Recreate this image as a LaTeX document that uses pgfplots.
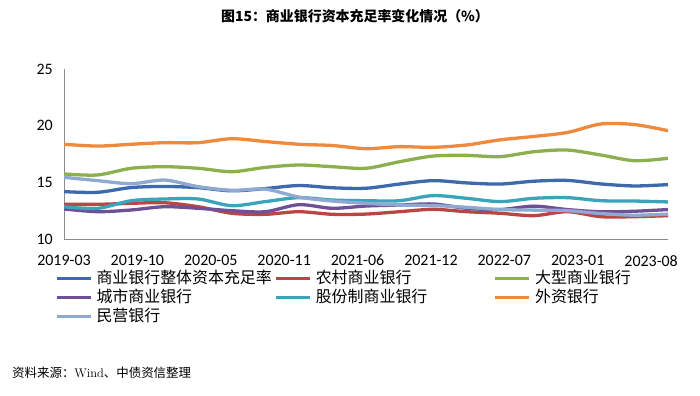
\documentclass[border=0pt]{standalone}
\usepackage{pgfplots}
\pgfplotsset{compat=1.18}
\usepackage{fontspec}
\newfontfamily\cjk{Noto Sans CJK SC}
\newfontfamily\calibri{Carlito}
\definecolor{cBlue}{HTML}{3D6AAD}
\definecolor{cRed}{HTML}{B84743}
\definecolor{cGreen}{HTML}{8DB04E}
\definecolor{cPurple}{HTML}{6F5096}
\definecolor{cTeal}{HTML}{3BA3BA}
\definecolor{cOrange}{HTML}{EE8A3E}
\definecolor{cLight}{HTML}{8FAAD2}
\begin{document}
\begin{tikzpicture}[x=1bp,y=1bp]
\path[use as bounding box] (0,0) rectangle (700,-395);
\node[anchor=center] at (355,-16) {\fontsize{14}{16}\selectfont\cjk\bfseries 图15：商业银行资本充足率变化情况（\%）};
\node[anchor=west,inner sep=0pt] at (12,-373) {\fontsize{12.5}{14}\selectfont{\cjk 资料来源：}Wind{\cjk 、中债资信整理}};
\begin{axis}[
  at={(64bp,-239bp)}, anchor=south west,
  scale only axis, width=604bp, height=170bp,
  xmin=0, xmax=18, ymin=10, ymax=25,
  axis x line*=bottom, axis y line*=left,
  axis line style={draw=black!45, line width=0.9bp, -},
  major tick length=0pt,
  ytick={10,15,20,25},
  xtick={0,2.187,4.374,6.561,8.748,10.935,13.122,15.309,17.496},
  xticklabels={2019-03,2019-10,2020-05,2020-11,2021-06,2021-12,2022-07,2023-01,2023-08},
  /pgf/number format/assume math mode=true,
  tick label style={font=\calibri\fontsize{16}{18}\selectfont, inner sep=0pt},
  x tick label style={anchor=north, yshift=-16bp},
  y tick label style={anchor=east, xshift=-11bp},
  legend columns=3,
  legend style={at={(axis description cs:-0.0149,-0.181)}, anchor=north west,
    draw=none, fill=none, inner sep=0pt, column sep=0pt, row sep=2bp,
    nodes={inner sep=0pt, text height=14bp, text depth=3bp, font=\fontsize{16}{18}\selectfont}},
  legend image code/.code={\draw[#1] (0bp,0bp) -- (34bp,0bp);},
  every axis plot/.append style={line width=3.3bp, smooth, tension=0.5, no markers},
]
\addplot[cBlue] coordinates {(0,14.18)(1,14.12)(2,14.54)(3,14.64)(4,14.53)(5,14.25)(6,14.45)(7,14.72)(8,14.52)(9,14.48)(10,14.85)(11,15.15)(12,14.95)(13,14.85)(14,15.1)(15,15.17)(16,14.86)(17,14.68)(18,14.8)};
\addlegendentry{\makebox[182bp][l]{\hspace*{4bp}\cjk 商业银行整体资本充足率}}
\addplot[cRed] coordinates {(0,13.06)(1,13.06)(2,13.15)(3,13.2)(4,12.85)(5,12.27)(6,12.18)(7,12.41)(8,12.18)(9,12.2)(10,12.41)(11,12.62)(12,12.41)(13,12.27)(14,12.06)(15,12.41)(16,11.97)(17,11.97)(18,12.06)};
\addlegendentry{\makebox[182bp][l]{\hspace*{4bp}\cjk 农村商业银行}}
\addplot[cGreen] coordinates {(0,15.74)(1,15.65)(2,16.24)(3,16.38)(4,16.24)(5,15.94)(6,16.32)(7,16.53)(8,16.38)(9,16.24)(10,16.82)(11,17.32)(12,17.38)(13,17.27)(14,17.7)(15,17.85)(16,17.41)(17,16.91)(18,17.12)};
\addlegendentry{\makebox[182bp][l]{\hspace*{4bp}\cjk 大型商业银行}}
\addplot[cPurple] coordinates {(0,12.65)(1,12.41)(2,12.56)(3,12.85)(4,12.71)(5,12.5)(6,12.41)(7,13.03)(8,12.71)(9,12.91)(10,13.0)(11,13.09)(12,12.71)(13,12.6)(14,12.9)(15,12.6)(16,12.4)(17,12.45)(18,12.6)};
\addlegendentry{\makebox[182bp][l]{\hspace*{4bp}\cjk 城市商业银行}}
\addplot[cTeal] coordinates {(0,12.85)(1,12.7)(2,13.38)(3,13.53)(4,13.53)(5,12.94)(6,13.3)(7,13.65)(8,13.44)(9,13.38)(10,13.38)(11,13.83)(12,13.59)(13,13.3)(14,13.59)(15,13.65)(16,13.38)(17,13.35)(18,13.27)};
\addlegendentry{\makebox[182bp][l]{\hspace*{4bp}\cjk 股份制商业银行}}
\addplot[cOrange] coordinates {(0,18.36)(1,18.2)(2,18.36)(3,18.5)(4,18.5)(5,18.85)(6,18.6)(7,18.36)(8,18.25)(9,17.97)(10,18.15)(11,18.09)(12,18.3)(13,18.75)(14,19.05)(15,19.4)(16,20.15)(17,20.1)(18,19.56)};
\addlegendentry{\makebox[182bp][l]{\hspace*{4bp}\cjk 外资银行}}
\addplot[cLight] coordinates {(0,15.44)(1,15.15)(2,14.88)(3,15.2)(4,14.62)(5,14.3)(6,14.4)(7,13.7)(8,13.35)(9,13.15)(10,13.0)(11,12.95)(12,12.8)(13,12.6)(14,12.55)(15,12.5)(16,12.25)(17,12.1)(18,12.2)};
\addlegendentry{\makebox[182bp][l]{\hspace*{4bp}\cjk 民营银行}}
\end{axis}
\end{tikzpicture}
\end{document}
